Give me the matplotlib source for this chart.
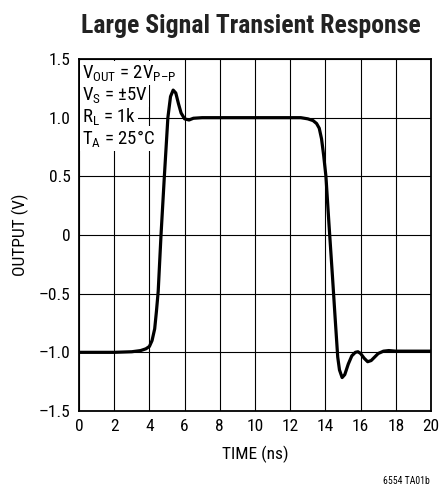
import matplotlib
matplotlib.use('Agg')
import matplotlib.pyplot as plt

plt.rcParams['font.family'] = ['Roboto Condensed', 'DejaVu Sans']
plt.rcParams['mathtext.fontset'] = 'custom'
plt.rcParams['mathtext.rm'] = 'Roboto Condensed'
plt.rcParams['mathtext.it'] = 'Roboto Condensed'

# waveform
time_ns = [0, 1, 2, 3, 3.5, 3.8, 4.0, 4.15, 4.3, 4.4, 4.5, 4.66, 4.85, 5.05, 5.2, 5.35,
           5.5, 5.65, 5.8, 6.0, 6.25, 6.5, 7, 8, 10, 12, 12.6, 13.0, 13.3, 13.5, 13.65,
           13.78, 13.9, 14.03, 14.2, 14.4, 14.55, 14.7, 14.8, 14.95, 15.1, 15.3, 15.5,
           15.7, 15.85, 16.0, 16.2, 16.4, 16.6, 16.8, 17.0, 17.3, 17.6, 18, 19, 20]
output_v = [-1.0, -1.0, -1.0, -0.995, -0.985, -0.97, -0.95, -0.9, -0.8, -0.65, -0.48,
            0.0, 0.5, 1.0, 1.18, 1.235, 1.21, 1.12, 1.04, 0.99, 0.98, 0.995, 1.0, 1.0,
            1.0, 1.0, 1.0, 0.99, 0.975, 0.95, 0.91, 0.82, 0.68, 0.5, 0.1, -0.35, -0.7,
            -1.04, -1.15, -1.215, -1.19, -1.1, -1.03, -1.0, -0.995, -1.01, -1.05, -1.08,
            -1.07, -1.04, -1.01, -0.99, -0.985, -0.99, -0.99, -0.99]

xticks = [0, 2, 4, 6, 8, 10, 12, 14, 16, 18, 20]
yticks = [-1.5, -1.0, -0.5, 0, 0.5, 1.0, 1.5]
ytick_labels = ['\u20131.5', '\u20131.0', '\u20130.5', '0', '0.5', '1.0', '1.5']
conditions = [r'V$_\mathrm{OUT}$ = 2V$_\mathrm{P–P}$',
              r'V$_\mathrm{S}$ = ±5V',
              r'R$_\mathrm{L}$ = 1k',
              r'T$_\mathrm{A}$ = 25°C']

fig = plt.figure(figsize=(4.4, 4.91), dpi=100)
ax = fig.add_axes([79 / 440, 1 - 411 / 491, 352 / 440, 352 / 491])

ax.plot(time_ns, output_v, color='black', linewidth=2.3, zorder=5)

ax.set_xlim(0, 20)
ax.set_ylim(-1.5, 1.5)
ax.set_xticks(xticks)
ax.set_yticks(yticks)
ax.set_yticklabels(ytick_labels)
ax.tick_params(length=0, labelsize=12.5, pad=6)
ax.grid(True, color='black', linewidth=0.8)
for sp in ax.spines.values():
    sp.set_linewidth(1.3)

ax.set_xlabel('TIME (ns)', fontsize=12.5, labelpad=8)
ax.set_ylabel('OUTPUT (V)', fontsize=12.5, labelpad=7)
fig.text(251 / 440, 1 - 33 / 491, 'Large Signal Transient Response', ha='center',
         va='baseline', fontsize=18.5, fontweight='bold', color='#222222')
fig.text(430 / 440, 1 - 481 / 491, '6554 TA01b', ha='right', va='center', fontsize=7)

for i, s in enumerate(conditions):
    ax.text(0.008, 0.96 - i * 0.062, s, transform=ax.transAxes, fontsize=13.5,
            va='center', ha='left', zorder=4,
            bbox=dict(facecolor='white', edgecolor='none', pad=1.2))

fig.savefig('out.png', dpi=100)
